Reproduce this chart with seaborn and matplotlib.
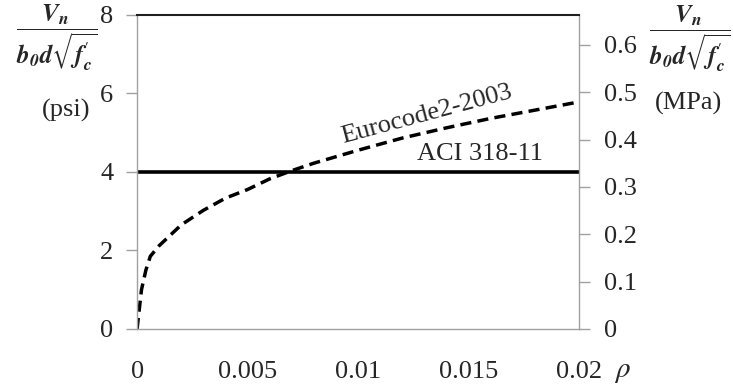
import matplotlib
matplotlib.use("Agg")
import matplotlib.pyplot as plt
import seaborn as sns
import pandas as pd

# Data
rho = [0, 0.0002, 0.0004, 0.0006, 0.001, 0.002, 0.003, 0.004, 0.005, 0.006,
       0.007, 0.008, 0.010, 0.012, 0.014, 0.016, 0.018, 0.020]
euro = [0, 1.0, 1.5, 1.85, 2.12, 2.65, 3.02, 3.33, 3.55, 3.82,
        4.03, 4.22, 4.55, 4.86, 5.12, 5.36, 5.57, 5.78]
aci_rho = [0, 0.02]
aci = [4, 4]
x_ticks = [0, 0.005, 0.01, 0.015, 0.02]
x_labels = ["0", "0.005", "0.01", "0.015", "0.02"]
yl_ticks = [0, 2, 4, 6, 8]
yr_ticks = [0, 0.1, 0.2, 0.3, 0.4, 0.5, 0.6]
yr_labels = ["0", "0.1", "0.2", "0.3", "0.4", "0.5", "0.6"]
psi_to_mpa = 0.083

sns.set_style("white")
plt.rcParams["font.family"] = ["Liberation Serif", "DejaVu Serif"]
plt.rcParams["mathtext.fontset"] = "stix"

fig = plt.figure(figsize=(7.33, 3.87), dpi=100)
ax = fig.add_axes([0.187, 0.150, 0.603, 0.812])

df_e = pd.DataFrame({"rho": rho, "v": euro})
df_a = pd.DataFrame({"rho": aci_rho, "v": aci})
sns.lineplot(data=df_e, x="rho", y="v", ax=ax, color="black", lw=2.5,
             linestyle=(0, (3.2, 1.8)))
sns.lineplot(data=df_a, x="rho", y="v", ax=ax, color="black", lw=2.6)

ax.set_xlim(0, 0.02)
ax.set_ylim(0, 8)
ax.set_xticks(x_ticks)
ax.set_xticklabels(x_labels)
ax.set_yticks(yl_ticks)
ax.set_xlabel("")
ax.set_ylabel("")
gray = "#a0a0a0"
for s in ["left", "bottom", "right"]:
    ax.spines[s].set_color(gray)
    ax.spines[s].set_linewidth(1.0)
ax.spines["top"].set_color("#202020")
ax.spines["top"].set_linewidth(1.5)
ax.tick_params(axis="both", which="major", direction="out", length=8,
               width=1.0, color=gray, labelsize=19)
ax.tick_params(axis="x", pad=15)
ax.tick_params(axis="y", pad=9)

ax2 = ax.twinx()
ax2.set_ylim(0, 8 * psi_to_mpa)
ax2.set_yticks(yr_ticks)
ax2.set_yticklabels(yr_labels)
for s in ["left", "bottom", "right", "top"]:
    ax2.spines[s].set_visible(False)
ax2.tick_params(axis="y", direction="out", length=8, width=1.0, color=gray,
                labelsize=19, pad=10)

frac = (r"$\dfrac{\mathbfit{V_n}}"
        r"{\mathbfit{b_0 d}\sqrt{\mathbfit{f}_{\mathbfit{c}}^{\prime}}}$")
fig.text(57 / 733, 1 - 38 / 387, frac, ha="center", va="center", fontsize=18)
fig.text(66 / 733, 1 - 110 / 387, "(psi)", ha="center", va="center", fontsize=19)
fig.text(690 / 733, 1 - 39 / 387, frac, ha="center", va="center", fontsize=18)
fig.text(688 / 733, 1 - 103 / 387, "(MPa)", ha="center", va="center", fontsize=19)
fig.text(622 / 733, 1 - 372 / 387, r"$\rho$", ha="center", va="center", fontsize=21)

ax.text(0.0131, 5.45, "Eurocode2-2003", rotation=15, ha="center", va="center",
        fontsize=19)
ax.text(0.0155, 4.45, "ACI 318-11", ha="center", va="center", fontsize=19)

fig.savefig("out.png", dpi=100)
